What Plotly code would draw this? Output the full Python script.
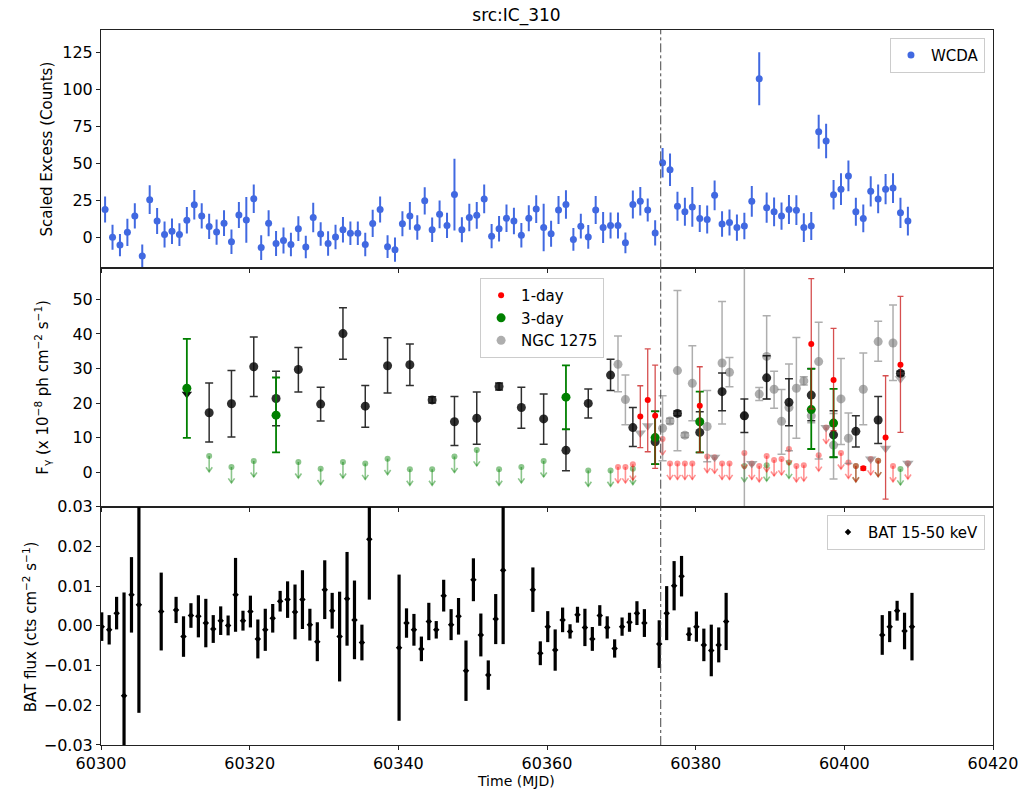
import plotly.graph_objects as go
from plotly.subplots import make_subplots

# ---------------- data ----------------
T0 = 60300.55          # day-0 of the daily grid (MJD)
BAT_T0 = 60300.1
marker_mjd = 60375.3    # vertical dash-dot reference line

# WCDA (daily)
wcda_vals = [18.8, 0, -5.3, 3.3, 14.4, -12.6, 25.4, 11, 1.8, 4,
             1.8, 11.5, 22, 14.4, 7.3, 3.5, 9.5, -3.1, 15, 11.7,
             26, -7, 9.5, -4.2, -2.2, -4.9, 5.8, -6.6, 13.3, 2.2,
             -4.2, 0.2, 5.1, 2.7, 2.7, -4.9, 9.3, 18.8,
             -6.4, -8.4, 9.1, 14.4, 6.6, 24.6, 5.1, 15.5, 8, 28.8, 5.1, 13.3,
             14.8, 25.9, 0.7, 5.8, 12.8, 11, 1.3, 12.8, 19, 6.6,
             2.4, 18.4, 22.1, -1.5, 7.5, 0.2, 18.4, 6.6, 8, 8,
             -3.8, 22.1, 24.3, 18.4, 2.9, 50.3, 45.6,
             20.9, 17.2, 20.5, 12.7, 12, 28.3, 8.9, 10, 6.5, 7.6, 24.3, 107,
             20, 17.2, 14.3, 18.7, 18.3, 6.5, 7.6, 71.3, 65, 28.7,
             32.5, 41.4, 17.2, 12.7, 31, 25.9, 32.5, 33.2, 16.5, 10.9]
wcda_errs = [8.8, 8.4, 7.5, 9.2, 8.5, 7.7, 9.7, 8.8, 8.8, 8.6,
             7.7, 9, 10, 8.5, 8.5, 8.5, 8.7, 8.3, 8.8, 15.5,
             9.7, 8.3, 8.8, 8.5, 8.8, 8, 8.3, 7.6, 10, 8,
             8.3, 8.3, 8.6, 8, 8, 8, 9.2, 8.8,
             7.7, 8.2, 8.5, 9.4, 8.3, 9.2, 8.3, 9.4, 8.5, 24.3, 8.4, 9.3,
             9, 9.7, 8.2, 8.6, 9.3, 9, 8.3, 8.8, 9.4, 16,
             8.8, 9.5, 9.6, 7.7, 8.3, 8, 9.5, 10.5, 8.8, 8.8,
             7, 9.4, 9.6, 7.7, 8.5, 10, 11,
             9.8, 9.4, 13.4, 9.1, 9.5, 10, 8.6, 8.8, 8.8, 8.9, 10.4, 17.9,
             10.2, 9.7, 9.2, 9.8, 10, 9.7, 9.5, 11.5, 11.7, 10,
             10.8, 10.4, 9.4, 9.4, 10.2, 9.7, 10.2, 10.1, 10.2, 9.7]
wcda_days = list(range(len(wcda_vals)))

# Middle panel: IC 310 3-day (black)
black3_days = [14, 17, 20, 23, 26, 29, 32, 35, 38, 41, 44, 47, 50, 53, 56, 59,
               62, 65, 68, 71, 74, 77, 80, 83, 86, 89, 92, 95, 98, 101, 104, 107]
black3_vals = [17.2, 19.8, 30.5, 21.3, 29.7, 19.7, 40.1, 19.1, 30.8, 31.1, 20.9, 14.6, 15.6, 24.8, 18.7, 15.4,
               6.3, 19.9, 28.1, 12.9, 8.8, 17.0, 11.5, 23.3, 16.3, 27.3, 20.2, 22.3, 10.8, 11.8, 15.1, 28.6]
black3_lo = [8.7, 10.2, 21.9, 13.4, 23.2, 14.8, 32.7, 13.0, 22.9, 25.1, 20.0, 7.7, 8.1, 23.8, 12.7, 8.1,
             0.4, 15.7, 23.6, 7.4, 2.3, 16.3, 5.7, 17.8, 11.5, 21.2, 13.4, 14.9, 4.3, 7.3, 8.3, 28.0]
black3_hi = [25.8, 29.4, 39.1, 29.2, 36.1, 24.6, 47.6, 25.1, 38.9, 37.1, 21.8, 21.9, 23.2, 25.8, 24.6, 22.6,
             12.4, 24.1, 32.7, 18.7, 17.6, 17.7, 17.5, 28.7, 21.2, 33.7, 27.0, 30.0, 17.8, 16.3, 21.9, 29.2]
black_ul_days = [11]
black_ul_vals = [22.6]

# 3-day (green)
green_days = [11, 23, 62, 74, 80, 95, 98]
green_vals = [24.3, 16.5, 21.7, 10.0, 14.6, 18.1, 14.2]
green_lo = [9.9, 5.7, 12.4, 2.3, 5.7, 6.7, 4.3]
green_hi = [38.6, 27.4, 30.9, 17.6, 23.3, 29.9, 24.1]
green_ul_days = [14, 17, 20, 26, 29, 32, 35, 38, 41, 44, 47, 50, 53, 56, 59, 65, 68, 71,
                 86, 89, 92, 101, 104, 107]
green_ul_vals = [4.7, 1.5, 3.2, 2.9, 1.0, 2.9, 2.5, 3.9, 0.8, 0.8, 4.5, 6.4, 0.8, 1.5, 3.2, 0.5, 0.5, 1.0,
                 1.8, 2.0, 2.8, 1.8, 3.3, 0.9]

# 1-day (red)
red_days = [72, 73, 74, 80, 95, 98, 102, 105, 107]
red_vals = [16.1, 20.9, 16.3, 19.2, 37.1, 26.7, 1.1, 10.0, 31.1]
red_lo = [7.1, 5.9, 1.1, 5.7, 18.3, 12.0, 0.6, -7.8, 11.5]
red_hi = [25.0, 35.7, 31.0, 30.5, 56.0, 41.6, 1.6, 27.9, 50.9]
red_ul_days = [69, 70, 71, 75, 76, 77, 78, 79, 81, 82, 83, 84, 86, 87, 88, 89, 90, 91, 92, 93, 94,
               96, 97, 99, 100, 101, 103, 104, 106, 108]
red_ul_vals = [1.5, 1.5, 2.3, 9.6, 2.5, 2.5, 2.5, 2.5, 4.5, 4.3, 2.5, 2.5, 5.5, 2.5, 1.8, 4.7, 3.5, 3.8,
               6.7, 1.8, 2.0, 4.9, 12.9, 5.5, 2.8, 1.8, 3.8, 3.3, 1.8, 2.6]

# NGC 1275 (gray)
ngc_days = [69, 70, 75, 76, 77, 78, 79, 81, 83, 84, 86, 88, 89, 90, 91, 92, 93, 94, 95, 96,
            98, 99, 100, 102, 104, 106]
ngc_vals = [31.2, 21.0, 12.7, 14.8, 29.4, 10.7, 25.7, 13.2, 31.6, 28.9, 16.3, 22.6, 33.5, 24.0, 14.7,
            18.7, 24.3, 26.4, 16.3, 32.0, 7.8, 21.2, 9.8, 24.0, 37.8, 37.4]
ngc_lo = [23.3, 13.7, 3.3, 14.0, 6.2, 10.0, 14.9, 3.0, 13.9, 24.7, -80, 20.7, 21.2, 18.5, 5.2,
          6.2, 9.8, 25.2, 14.3, 3.8, -2.0, 8.0, 2.5, 13.7, 32.1, 26.5]
ngc_hi = [39.4, 28.1, 22.1, 15.6, 52.6, 11.4, 36.6, 23.6, 49.4, 33.2, 110, 24.5, 45.3, 29.2, 23.9,
          31.3, 39.0, 27.6, 18.3, 43.4, 17.0, 32.9, 17.1, 34.5, 43.7, 48.4]
ngc_ul_days = [72, 73, 82, 87, 97, 103, 105, 107, 108]
ngc_ul_vals = [11.3, 13.4, 4.3, 2.5, 12.9, 3.8, 6.9, 27.0, 2.6]

# BAT 15-50 keV
bat_days = [0, 1, 2, 3, 4, 5, 8,
            10, 11, 12, 13, 14, 15, 16, 17, 18, 19, 20, 21, 22, 23, 24, 25, 26, 27, 28, 29, 30,
            31, 32, 33, 34, 35, 36,
            40, 41, 42, 43, 44, 45, 46, 47, 48, 49, 50, 51, 52, 53, 54,
            58, 59, 60, 61, 62, 63, 64, 65, 66, 67, 68, 69, 70, 71, 72, 73,
            75, 76, 77, 78, 79, 80, 81, 82, 83, 84,
            105, 106, 107, 108, 109]
bat_vals = [-0.0002, -0.001, 0.0032, -0.0176, 0.0078, 0.0053, 0.0036,
            0.004, -0.0027, 0.0026, 0.0024, 0.0007, -0.0008, 0.0013, 0.0001, 0.0078, 0.0013, 0.0036,
            -0.0033, -0.001, 0.0019, 0.0062, 0.0066, 0.0035, 0.0066, 0.0003, -0.004, 0.0091,
            0.0038, -0.0027, 0.0068, 0.0015, -0.0042, 0.0218,
            -0.0055, 0.0007, -0.001, -0.0058, 0.0011, -0.001, 0.0076, 0.0003, 0.0024, -0.0113,
            0.0116, -0.0023, -0.0124, 0.0017, 0.014,
            0.0091, -0.0069, -0.0002, -0.0061, 0.0015, -0.0014, 0.0028, -0.0004, -0.0033, 0.0026,
            -0.0004, -0.0057, -0.0002, 0.0009, 0.0032, 0.0007,
            -0.0046, 0.0032, 0.0101, 0.0125, -0.0021, -0.0002, -0.0048, -0.0062, -0.0048, 0.0011,
            -0.0023, -0.0002, 0.0038, -0.0013, -0.0002]
bat_errs = [0.0036, 0.0037, 0.0041, 0.026, 0.0095, 0.0272, 0.0098,
            0.0033, 0.0051, 0.0031, 0.0053, 0.0061, 0.0035, 0.0036, 0.0025, 0.0093, 0.0025, 0.004,
            0.0049, 0.0053, 0.0036, 0.0026, 0.0046, 0.0069, 0.0074, 0.004, 0.0049, 0.0074,
            0.0045, 0.0113, 0.0118, 0.0099, 0.0045, 0.0152,
            0.0184, 0.0037, 0.004, 0.0031, 0.0047, 0.0022, 0.004, 0.0039, 0.0046, 0.0076,
            0.0054, 0.0054, 0.0037, 0.0063, 0.0186,
            0.0056, 0.003, 0.0039, 0.0052, 0.0031, 0.0018, 0.002, 0.0047, 0.003, 0.0026,
            0.0028, 0.0023, 0.0023, 0.0024, 0.003, 0.0035,
            0.006, 0.0068, 0.0062, 0.0051, 0.0017, 0.0038, 0.0041, 0.0065, 0.0044, 0.0072,
            0.005, 0.0039, 0.0025, 0.0046, 0.0085]

x_ticks = [60300, 60320, 60340, 60360, 60380, 60400, 60420]

# ---------------- helpers ----------------
FONT = "DejaVu Sans"


def mjd(days, base=T0):
    return [base + d for d in days]


def asym(vals, lo, hi):
    return dict(type="data", symmetric=False,
                array=[h - v for v, h in zip(vals, hi)],
                arrayminus=[v - l for v, l in zip(vals, lo)])


def arrows(days, vals, L=4.6, hw=0.42, hh=1.3):
    xs, ys = [], []
    for t, v in zip(mjd(days), vals):
        xs += [t, t, None, t - hw, t, t + hw, None]
        ys += [v, v - L, None, v - L + hh, v - L, v - L + hh, None]
    return xs, ys


fig = make_subplots(rows=3, cols=1, shared_xaxes=True, vertical_spacing=0)

# ---- top: WCDA ----
fig.add_trace(go.Scatter(
    x=mjd(wcda_days), y=wcda_vals, mode="markers", name="WCDA",
    marker=dict(color="#4169E1", size=7),
    error_y=dict(type="data", array=wcda_errs, color="#4169E1", thickness=2, width=0),
    legend="legend"), row=1, col=1)

# ---- middle ----
GREEN_UL = "rgba(0,128,0,0.45)"
RED_UL = "rgba(255,0,0,0.42)"
GRAY = "rgba(120,120,120,0.6)"

gx, gy = arrows(green_ul_days, green_ul_vals)
fig.add_trace(go.Scatter(x=gx, y=gy, mode="lines", line=dict(color=GREEN_UL, width=1.6),
                         showlegend=False, hoverinfo="skip"), row=2, col=1)
fig.add_trace(go.Scatter(x=mjd(green_ul_days), y=green_ul_vals, mode="markers",
                         marker=dict(color=GREEN_UL, size=6), showlegend=False), row=2, col=1)
rx, ry = arrows(red_ul_days, red_ul_vals)
fig.add_trace(go.Scatter(x=rx, y=ry, mode="lines", line=dict(color=RED_UL, width=1.6),
                         showlegend=False, hoverinfo="skip"), row=2, col=1)
fig.add_trace(go.Scatter(x=mjd(red_ul_days), y=red_ul_vals, mode="markers",
                         marker=dict(color=RED_UL, size=6), showlegend=False), row=2, col=1)

fig.add_trace(go.Scatter(x=mjd(ngc_ul_days), y=ngc_ul_vals, mode="markers",
                         marker=dict(color=GRAY, size=10, symbol="triangle-down"),
                         showlegend=False), row=2, col=1)
fig.add_trace(go.Scatter(
    x=mjd(ngc_days), y=ngc_vals, mode="markers", name="NGC 1275", legend="legend2", legendrank=3,
    marker=dict(color=GRAY, size=9),
    error_y=dict(**asym(ngc_vals, ngc_lo, ngc_hi), color=GRAY, thickness=1.5, width=4)),
    row=2, col=1)

fig.add_trace(go.Scatter(x=mjd(black_ul_days), y=black_ul_vals, mode="markers",
                         marker=dict(color="#111", size=9, symbol="triangle-down"),
                         showlegend=False), row=2, col=1)
fig.add_trace(go.Scatter(
    x=mjd(black3_days), y=black3_vals, mode="markers", showlegend=False,
    marker=dict(color="rgba(10,10,10,0.85)", size=9),
    error_y=dict(**asym(black3_vals, black3_lo, black3_hi), color="rgba(10,10,10,0.85)",
                 thickness=1.5, width=4)), row=2, col=1)
fig.add_trace(go.Scatter(
    x=mjd(green_days), y=green_vals, mode="markers", name="3-day", legend="legend2", legendrank=2,
    marker=dict(color="#008000", size=9),
    error_y=dict(**asym(green_vals, green_lo, green_hi), color="#008000", thickness=1.8, width=4)),
    row=2, col=1)
fig.add_trace(go.Scatter(
    x=mjd(red_days), y=red_vals, mode="markers", name="1-day", legend="legend2", legendrank=1,
    marker=dict(color="#ff0000", size=6),
    error_y=dict(**asym(red_vals, red_lo, red_hi), color="rgba(200,20,20,0.75)",
                 thickness=1.3, width=3)), row=2, col=1)

# ---- bottom: BAT ----
fig.add_hline(y=0, row=3, col=1, line=dict(color="black", width=3, dash="dot"))
fig.add_trace(go.Scatter(
    x=mjd(bat_days, BAT_T0), y=bat_vals, mode="markers", name="BAT 15-50 keV", legend="legend3",
    marker=dict(color="black", size=5, symbol="diamond"),
    error_y=dict(type="data", array=bat_errs, color="black", thickness=3.2, width=0)),
    row=3, col=1)

fig.add_vline(x=marker_mjd, row="all", col=1, line=dict(color="#444", width=1, dash="dashdot"))

# ---------------- layout ----------------
axis_common = dict(showline=True, mirror=True, linecolor="#222", linewidth=1,
                   ticks="outside", ticklen=4, tickcolor="#222", showgrid=False,
                   zeroline=False, tickfont=dict(family=FONT, size=16, color="black"),
                   automargin=False)

for i in (1, 2, 3):
    fig.update_xaxes(range=[60300, 60420], tickvals=x_ticks, tickformat="d",
                     showticklabels=(i == 3), row=i, col=1, **axis_common)
fig.update_yaxes(range=[-21, 140], tickvals=[0, 25, 50, 75, 100, 125], row=1, col=1, **axis_common)
fig.update_yaxes(range=[-10, 59], tickvals=[0, 10, 20, 30, 40, 50], row=2, col=1, **axis_common)
fig.update_yaxes(range=[-0.03, 0.03], tickvals=[-0.03, -0.02, -0.01, 0, 0.01, 0.02, 0.03],
                 tickformat=".2f", row=3, col=1, **axis_common)

legend_style = dict(bgcolor="rgba(255,255,255,0.85)", bordercolor="#ccc", borderwidth=1,
                    font=dict(family=FONT, size=15, color="black"))

fig.update_layout(
    width=1033, height=794,
    margin=dict(l=101, r=40, t=30, b=49),
    paper_bgcolor="white", plot_bgcolor="white",
    font=dict(family=FONT, size=15, color="black"),
    title=dict(text="src:IC_310", x=0.5, xref="container", xanchor="center",
               y=1 - 15 / 794, yref="container", yanchor="middle",
               font=dict(family=FONT, size=17, color="black")),
    legend=dict(x=0.991, y=0.989, xanchor="right", yanchor="top", **legend_style),
    legend2=dict(x=0.425, y=0.653, xanchor="left", yanchor="top", tracegroupgap=0, **legend_style),
    legend3=dict(x=0.991, y=0.322, xanchor="right", yanchor="top", **legend_style),
    annotations=[
        dict(text="Scaled Excess (Counts)", xref="paper", yref="paper", x=-0.0605, y=0.833,
             textangle=-90, showarrow=False, xanchor="center", yanchor="middle",
             font=dict(family=FONT, size=15)),
        dict(text="F<sub>γ</sub> (x 10<sup>−8</sup> ph cm<sup>−2</sup> s<sup>−1</sup>)",
             xref="paper", yref="paper", x=-0.066, y=0.5, textangle=-90, showarrow=False,
             xanchor="center", yanchor="middle", font=dict(family=FONT, size=15)),
        dict(text="BAT flux (cts cm<sup>−2</sup> s<sup>−1</sup>)", xref="paper", yref="paper",
             x=-0.0796, y=0.166, textangle=-90, showarrow=False, xanchor="center",
             yanchor="middle", font=dict(family=FONT, size=15)),
        dict(text="Time (MJD)", xref="paper", yref="paper", x=(516 - 101) / 892, y=-36 / 715,
             showarrow=False, xanchor="center", yanchor="middle", font=dict(family=FONT, size=14)),
    ],
)

fig.write_html("out.html", config={"displayModeBar": False},
               post_script="document.body.style.margin='0px';")
